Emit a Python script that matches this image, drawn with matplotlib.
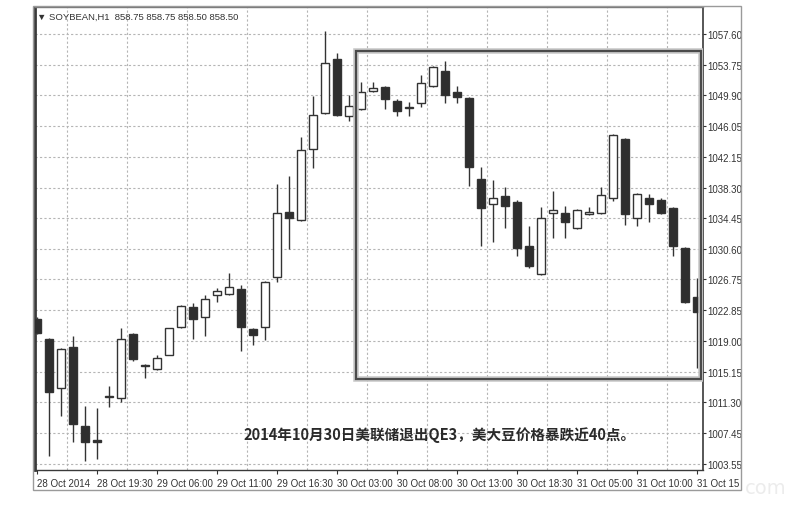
import matplotlib
matplotlib.use('Agg')
import matplotlib.pyplot as plt
from matplotlib.patches import Rectangle
import numpy as np

# ---------------- data ----------------
opens = [1021.78, 1019.26, 1013.11, 1018.26, 1008.33, 1006.57, 1012.00, 1011.85, 1019.89, 1015.82,
         1015.49, 1017.25, 1020.77, 1023.29, 1022.03, 1024.79, 1024.92, 1025.55, 1020.52, 1020.77,
         1027.06, 1035.23, 1034.22, 1043.15, 1047.67, 1054.46, 1047.29, 1048.17, 1050.44, 1050.94,
         1049.18, 1048.35, 1048.93, 1051.06, 1052.95, 1050.31, 1049.56, 1039.37, 1036.23, 1037.24,
         1036.48, 1030.95, 1027.43, 1035.10, 1035.10, 1033.22, 1035.00, 1035.10, 1036.99, 1044.40,
         1034.47, 1036.99, 1036.73, 1035.73, 1030.70, 1024.54]
highs = [1022.00, 1019.40, 1018.10, 1019.64, 1010.84, 1010.59, 1013.36, 1020.65, 1020.00, 1016.12,
         1017.25, 1020.70, 1023.50, 1023.79, 1024.79, 1025.67, 1027.56, 1026.05, 1020.60, 1026.50,
         1038.75, 1039.75, 1044.65, 1049.81, 1057.98, 1055.21, 1049.93, 1051.57, 1051.57, 1051.06,
         1049.45, 1049.05, 1052.45, 1053.55, 1054.21, 1051.06, 1049.68, 1040.88, 1039.25, 1038.37,
         1036.73, 1033.47, 1035.86, 1037.87, 1035.98, 1035.60, 1035.86, 1038.37, 1045.00, 1044.50,
         1037.60, 1037.49, 1036.99, 1035.86, 1030.83, 1026.93]
lows = [1019.90, 1004.56, 1009.59, 1006.32, 1003.93, 1004.18, 1010.72, 1011.35, 1016.50, 1014.36,
        1015.40, 1017.20, 1020.70, 1019.26, 1019.64, 1023.91, 1024.85, 1017.76, 1018.51, 1019.14,
        1026.43, 1030.58, 1034.10, 1040.76, 1047.50, 1047.30, 1046.66, 1048.00, 1050.31, 1048.17,
        1047.29, 1047.29, 1048.42, 1050.95, 1048.93, 1048.93, 1038.50, 1030.95, 1031.46, 1033.22,
        1029.70, 1028.19, 1027.30, 1031.96, 1031.96, 1033.10, 1034.90, 1035.00, 1036.61, 1033.60,
        1033.47, 1033.97, 1034.98, 1029.70, 1023.80, 1015.62]
closes = [1020.02, 1012.60, 1018.01, 1008.58, 1006.32, 1006.32, 1012.15, 1019.26, 1016.75, 1015.90,
          1016.88, 1020.65, 1023.41, 1021.78, 1024.29, 1025.30, 1025.80, 1020.77, 1019.77, 1026.43,
          1035.10, 1034.47, 1043.02, 1047.42, 1053.96, 1047.42, 1048.55, 1050.31, 1050.81, 1049.43,
          1047.92, 1048.45, 1051.44, 1053.45, 1049.93, 1049.68, 1040.88, 1035.73, 1036.99, 1035.98,
          1030.70, 1028.44, 1034.47, 1035.48, 1033.97, 1035.48, 1035.20, 1037.36, 1044.91, 1034.98,
          1037.49, 1036.23, 1035.10, 1030.95, 1023.91, 1022.66]

xtick_pos = [0, 5, 10, 15, 20, 25, 30, 35, 40, 45, 50, 55]
xtick_labels = ["28 Oct 2014", "28 Oct 19:30", "29 Oct 06:00", "29 Oct 11:00", "29 Oct 16:30",
                "30 Oct 03:00", "30 Oct 08:00", "30 Oct 13:00", "30 Oct 18:30", "31 Oct 05:00",
                "31 Oct 10:00", "31 Oct 15"]
ytick_vals = [1003.55, 1007.45, 1011.30, 1015.15, 1019.00, 1022.85, 1026.75, 1030.60,
              1034.45, 1038.30, 1042.15, 1046.05, 1049.90, 1053.75, 1057.60]
ytick_labels = ["%.2f" % v for v in ytick_vals]

header = "\u25BC SOYBEAN,H1  858.75 858.75 858.50 858.50"
annotation = "2014年10月30日美联储退出QE3，美大豆价格暴跌近40点。"

# highlight box (candle index range, price range)
box_k = (26.58, 55.33)
box_p = (1014.24, 1055.46)

# ---------------- style ----------------
W, H = 794, 506
fig = plt.figure(figsize=(W / 100, H / 100), dpi=100)
fig.patch.set_facecolor('white')

ax_left, ax_right = 35 / W, 703 / W
ax_bottom, ax_top = 1 - 471 / H, 1 - 8 / H
ax = fig.add_axes([ax_left, ax_bottom, ax_right - ax_left, ax_top - ax_bottom])
ax.set_facecolor('white')

dark = '#2e2e2e'
edge = '#333333'
n = len(opens)
x = np.arange(n)
o = np.array(opens); c = np.array(closes); hi = np.array(highs); lo = np.array(lows)

# wicks
ax.vlines(x, lo, hi, color=edge, lw=1.0, zorder=3)
# bodies
bw = 0.66
up = c >= o
bottoms = np.minimum(o, c)
heights = np.maximum(np.abs(c - o), 0.12)
ax.bar(x[up], heights[up], bottom=bottoms[up], width=bw, color='white',
       edgecolor=edge, linewidth=1.0, zorder=4)
ax.bar(x[~up], heights[~up], bottom=bottoms[~up], width=bw, color=dark,
       edgecolor=edge, linewidth=1.0, zorder=4)

ax.set_xlim(-0.17, 55.5)
ax.set_ylim(1002.80, 1060.99)

# grid
ax.set_xticks(np.arange(2.5, 56, 2.5), minor=True)
ax.set_xticks(xtick_pos)
ax.set_xticklabels(xtick_labels)
ax.set_yticks(ytick_vals)
ax.set_yticklabels(ytick_labels)
ax.grid(False)
ax.grid(which='minor', axis='x', color='#b5b5b5', linestyle=(0, (2, 2)), lw=0.8, zorder=1)
ax.grid(which='major', axis='y', color='#b5b5b5', linestyle=(0, (2, 2)), lw=0.8, zorder=1)

ax.yaxis.tick_right()
ax.tick_params(axis='y', which='major', length=2, width=0.8, pad=1, colors='#333333',
               labelsize=7)
ax.tick_params(axis='x', which='major', length=3, width=0.8, pad=3, colors='#333333',
               labelsize=7, direction='out')
ax.tick_params(axis='x', which='minor', length=0)
for lab in ax.get_xticklabels():
    lab.set_horizontalalignment('left')
    lab.set_fontfamily(['Liberation Sans', 'DejaVu Sans'])
for lab in ax.get_yticklabels():
    lab.set_fontfamily(['Liberation Sans', 'DejaVu Sans'])
ax.get_xticklabels()[-1].set_clip_on(False)

for side in ['left', 'right', 'bottom', 'top']:
    ax.spines[side].set_color('#3a3a3a')
ax.spines['left'].set_linewidth(2.0)
ax.spines['right'].set_linewidth(1.2)
ax.spines['bottom'].set_linewidth(1.0)
ax.spines['top'].set_linewidth(1.0)
ax.spines['top'].set_color('#777777')

# highlight box with soft inner shadow
ax.add_patch(Rectangle((box_k[0], box_p[0]), box_k[1] - box_k[0], box_p[1] - box_p[0],
                       fill=False, edgecolor='#c8c8c8', lw=4.0, zorder=5))
ax.add_patch(Rectangle((box_k[0], box_p[0]), box_k[1] - box_k[0], box_p[1] - box_p[0],
                       fill=False, edgecolor='#4a4a4a', lw=1.6, zorder=6))

# header & annotation
ax.text(37 / W, 1 - 17 / H, header, transform=fig.transFigure, ha='left', va='center',
        fontsize=6.8, color='#333333', family=['Liberation Sans', 'DejaVu Sans'])
ax.text(0.605, 0.078, annotation, transform=ax.transAxes, ha='center', va='center',
        fontsize=10.5, color='#2a2a2a', fontweight='bold',
        family=['Noto Sans CJK SC', 'DejaVu Sans'], zorder=7)

# outer frame
fig.add_artist(Rectangle((33 / W, 1 - 491 / H), (741 - 33) / W, (491 - 7) / H,
                         transform=fig.transFigure, fill=False, edgecolor='#9a9a9a', lw=1.0))
# faint watermark
fig.text(745 / W, 1 - 489 / H, "com", ha='left', va='center', fontsize=14,
         color='#ececec', family=['DejaVu Sans'])

fig.savefig('out.png', dpi=100, facecolor='white')
